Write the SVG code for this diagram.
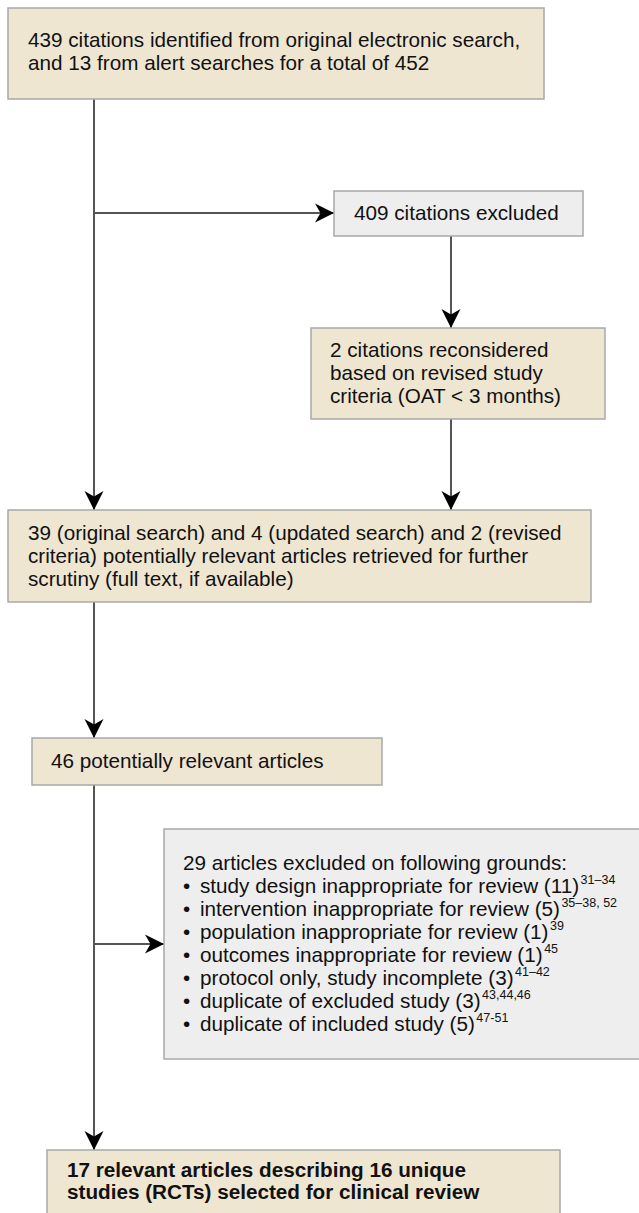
<svg xmlns="http://www.w3.org/2000/svg" width="639" height="1213" viewBox="0 0 639 1213">
<style>
.box{stroke:#a8a8a8;stroke-width:1.5}
.beige{fill:#efe6d2}
.gray{fill:#eeeeee}
text{font-family:"Liberation Sans",Arial,Helvetica,sans-serif;font-size:20.7px;fill:#111}
.b{font-weight:bold}
.sup{font-size:12.5px}
.conn{stroke:#555;stroke-width:2;fill:none}
</style>
<defs>
<marker id="ah" markerUnits="userSpaceOnUse" markerWidth="22" markerHeight="22" viewBox="-20 -11 22 22" refX="0" refY="0" orient="auto">
<path d="M0,0 L-19,-9.5 L-13.5,0 L-19,9.5 Z" fill="#000"/>
</marker>
</defs>
<g id="connectors">
<line class="conn" x1="94" y1="99" x2="94" y2="510" marker-end="url(#ah)"/>
<line class="conn" x1="94" y1="213" x2="334" y2="213" marker-end="url(#ah)"/>
<line class="conn" x1="451" y1="236" x2="451" y2="328" marker-end="url(#ah)"/>
<line class="conn" x1="451" y1="419" x2="451" y2="510" marker-end="url(#ah)"/>
<line class="conn" x1="94" y1="602" x2="94" y2="738" marker-end="url(#ah)"/>
<line class="conn" x1="94" y1="785" x2="94" y2="1150" marker-end="url(#ah)"/>
<line class="conn" x1="94" y1="944" x2="164" y2="944" marker-end="url(#ah)"/>
</g>
<g id="n1">
<rect class="box beige" x="8" y="8" width="536" height="91"/>
<text x="28" y="47">439 citations identified from original electronic search,</text>
<text x="28" y="70">and 13 from alert searches for a total of 452</text>
</g>
<g id="n2">
<rect class="box gray" x="334" y="191" width="249" height="45"/>
<text x="354" y="220">409 citations excluded</text>
</g>
<g id="n3">
<rect class="box beige" x="311" y="328" width="294" height="91"/>
<text x="330" y="357">2 citations reconsidered</text>
<text x="330" y="380">based on revised study</text>
<text x="330" y="403">criteria (OAT &lt; 3 months)</text>
</g>
<g id="n4">
<rect class="box beige" x="8" y="510" width="583" height="92"/>
<text x="28" y="540">39 (original search) and 4 (updated search) and 2 (revised</text>
<text x="28" y="563">criteria) potentially relevant articles retrieved for further</text>
<text x="28" y="586">scrutiny (full text, if available)</text>
</g>
<g id="n5">
<rect class="box beige" x="32" y="738" width="350" height="47"/>
<text x="51" y="768">46 potentially relevant articles</text>
</g>
<g id="n6">
<rect class="box gray" x="164" y="829" width="490" height="230"/>
<text x="183" y="870">29 articles excluded on following grounds:</text>
<text x="183" y="893">•<tspan x="200">study design inappropriate for review (11)</tspan><tspan class="sup" dx="1.5" dy="-9">31–34</tspan></text>
<text x="183" y="916">•<tspan x="200">intervention inappropriate for review (5)</tspan><tspan class="sup" dx="1.5" dy="-9">35–38, 52</tspan></text>
<text x="183" y="939">•<tspan x="200">population inappropriate for review (1)</tspan><tspan class="sup" dx="1.5" dy="-9">39</tspan></text>
<text x="183" y="962">•<tspan x="200">outcomes inappropriate for review (1)</tspan><tspan class="sup" dx="1.5" dy="-9">45</tspan></text>
<text x="183" y="985">•<tspan x="200">protocol only, study incomplete (3)</tspan><tspan class="sup" dx="1.5" dy="-9">41–42</tspan></text>
<text x="183" y="1008">•<tspan x="200">duplicate of excluded study (3)</tspan><tspan class="sup" dx="1.5" dy="-9">43,44,46</tspan></text>
<text x="183" y="1031">•<tspan x="200">duplicate of included study (5)</tspan><tspan class="sup" dx="1.5" dy="-9">47-51</tspan></text>
</g>
<g id="n7">
<rect class="box beige" x="47" y="1150" width="513" height="80"/>
<text class="b" x="67" y="1177">17 relevant articles describing 16 unique</text>
<text class="b" x="67" y="1199">studies (RCTs) selected for clinical review</text>
</g>
</svg>
